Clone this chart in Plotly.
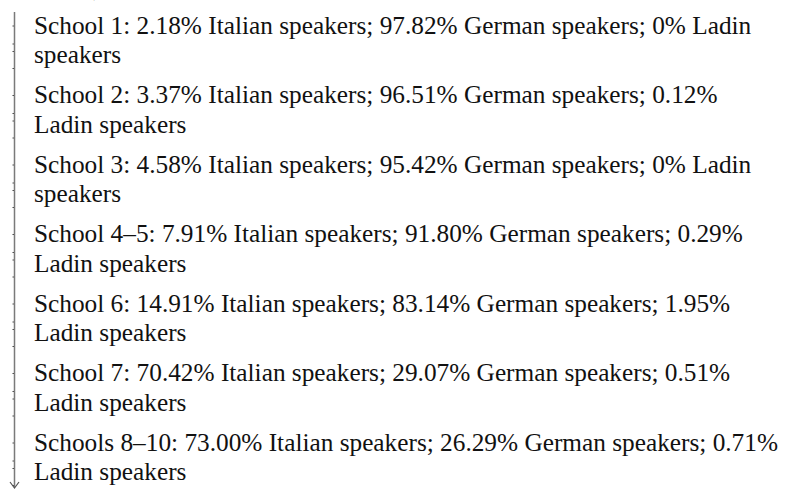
import plotly.graph_objects as go

# ---- data ----
school_labels = ["School 1", "School 2", "School 3", "School 4–5", "School 6", "School 7", "Schools 8–10"]
italian_pct = [2.18, 3.37, 4.58, 7.91, 14.91, 70.42, 73.00]
german_pct = [97.82, 96.51, 95.42, 91.80, 83.14, 29.07, 26.29]
ladin_pct = [0, 0.12, 0, 0.29, 1.95, 0.51, 0.71]
wrap_words = [1, 2, 1, 2, 2, 2, 2]  # words carried to the second line

W, H = 796, 490
FONT = "Liberation Serif"
FS = 25.3
TEXT_X = 32
FIRST_BASE = 34
ENTRY_STEP = 69.5
LINE_STEP = 29.5
DESC = 0.27 * FS


def pct(v):
    return "0%" if v == 0 else f"{v:.2f}%"


fig = go.Figure()
fig.add_trace(go.Scatter(x=[0, W], y=[0, H], mode="markers", marker=dict(opacity=0), hoverinfo="skip", showlegend=False))

annotations = []
shapes = []

for i, name in enumerate(school_labels):
    full = f"{name}: {pct(italian_pct[i])} Italian speakers; {pct(german_pct[i])} German speakers; {pct(ladin_pct[i])} Ladin speakers"
    words = full.split(" ")
    l1 = " ".join(words[: len(words) - wrap_words[i]])
    l2 = " ".join(words[len(words) - wrap_words[i]:])
    b1 = FIRST_BASE + i * ENTRY_STEP
    b2 = b1 + LINE_STEP
    for txt, base in ((l1, b1), (l2, b2)):
        annotations.append(dict(x=TEXT_X, y=base + DESC, xref="x", yref="y", text=txt, showarrow=False,
                                xanchor="left", yanchor="bottom", align="left",
                                font=dict(family=FONT, size=FS, color="#111111")))
    # faint tick marks on the timeline
    for ty in (b1 - 8, b1 + 10, b2 - 12, b2 + 5):
        shapes.append(dict(type="line", x0=12.5, x1=15, y0=ty, y1=ty, xref="x", yref="y",
                           line=dict(color="#444444", width=1)))

# cropped previous line at the top
annotations.append(dict(x=4, y=-4 + DESC, xref="x", yref="y", text="speakers),", showarrow=False,
                        xanchor="left", yanchor="bottom", font=dict(family=FONT, size=FS, color="#111111")))

# vertical arrow line
shapes.append(dict(type="line", x0=14.5, x1=14.5, y0=12, y1=487, xref="x", yref="y",
                   line=dict(color="#7a7a7a", width=1.5)))
shapes.append(dict(type="path", path="M 10 482 L 14.5 488 L 19 482", xref="x", yref="y",
                   line=dict(color="#555555", width=1.2)))

fig.update_layout(
    width=W, height=H,
    margin=dict(l=0, r=0, t=0, b=0),
    paper_bgcolor="white", plot_bgcolor="white",
    xaxis=dict(range=[0, W], visible=False, fixedrange=True),
    yaxis=dict(range=[H, 0], visible=False, fixedrange=True),
    annotations=annotations, shapes=shapes,
    showlegend=False,
)

fig.write_html("out.html", config={"displayModeBar": False},
               post_script="document.body.style.margin='0';document.body.style.overflow='hidden';")
